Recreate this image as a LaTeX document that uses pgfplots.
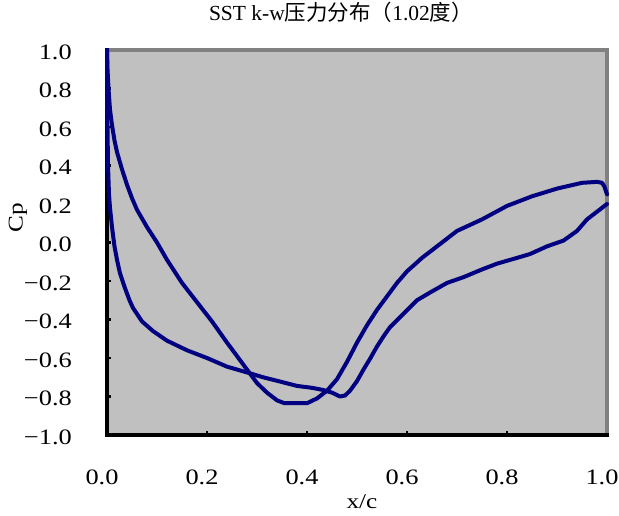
\documentclass[border=0pt]{standalone}
\usepackage{pgfplots}
\pgfplotsset{compat=1.18}
\usepackage{fontspec}
\setmainfont{Liberation Serif}
\newfontfamily\tickfont[FakeStretch=1.2]{Liberation Serif}
\newfontfamily\cjk{Noto Sans CJK SC}
\definecolor{navyline}{RGB}{0,0,128}
\definecolor{plotbg}{RGB}{192,192,192}
\definecolor{frame}{RGB}{128,128,128}
\begin{document}
\begin{tikzpicture}
\useasboundingbox (0,0) rectangle (619pt,516pt);
\begin{axis}[
  at={(107pt,81pt)}, anchor=south west,
  scale only axis, width=500pt, height=385pt,
  xmin=0, xmax=1, ymin=-1, ymax=1,
  clip=false,
  axis line style={draw=none},
  axis background/.style={fill=plotbg},
  tick align=inside, tick pos=left,
  major tick length=4pt,
  tick style={black, line width=2.5pt},
  xtick={0,0.2,0.4,0.6,0.8,1.0},
  xticklabels={0.0,0.2,0.4,0.6,0.8,1.0},
  ytick={-1,-0.8,-0.6,-0.4,-0.2,0,0.2,0.4,0.6,0.8,1.0},
  yticklabels={−1.0,−0.8,−0.6,−0.4,−0.2,0.0,0.2,0.4,0.6,0.8,1.0},
  every tick label/.append style={font=\tickfont\fontsize{22}{24}\selectfont},
  yticklabel style={anchor=east, inner sep=0pt, xshift=-35pt, yshift=-2pt},
  xticklabel style={anchor=north, inner sep=0pt, yshift=-35pt, xshift=-5pt},
  title={SST k-w{\cjk 压力分布（}1.02{\cjk 度）}},
  title style={at={(axis description cs:0.468,1.062)}, anchor=base, inner sep=0pt, font=\fontsize{21.5}{24}\selectfont},
  xlabel={x/c},
  xlabel style={at={(axis description cs:0.51,-0.192)}, anchor=base, inner sep=0pt, font=\tickfont\fontsize{21}{24}\selectfont},
  ylabel={Cp},
  ylabel style={at={(axis description cs:-0.178,0.564)}, anchor=center, inner sep=0pt, rotate=0, font=\tickfont\fontsize{21}{24}\selectfont},
]
\draw[frame, line width=4pt, line cap=rect] (rel axis cs:0,1) -- (rel axis cs:1,1) -- (rel axis cs:1,0);
\draw[black, line width=4.5pt, line cap=rect, line join=miter] (rel axis cs:0,1) -- (rel axis cs:0,0) -- (rel axis cs:1,0);
% pressure side
\addplot[navyline, line width=4pt, line join=round, line cap=round] coordinates {
(0.000,1.00) (0.001,0.90) (0.003,0.80) (0.006,0.69) (0.010,0.61) (0.015,0.53)
(0.020,0.47) (0.030,0.38) (0.040,0.30) (0.050,0.23) (0.060,0.17) (0.080,0.08)
(0.100,0.00) (0.120,-0.09) (0.150,-0.21) (0.180,-0.31) (0.210,-0.41) (0.240,-0.52)
(0.260,-0.59) (0.280,-0.66) (0.300,-0.73) (0.320,-0.78) (0.340,-0.82) (0.355,-0.835)
(0.400,-0.835) (0.420,-0.81) (0.440,-0.77) (0.460,-0.71) (0.480,-0.62) (0.500,-0.52)
(0.520,-0.43) (0.540,-0.35) (0.560,-0.28) (0.580,-0.21) (0.600,-0.15) (0.630,-0.08)
(0.660,-0.02) (0.700,0.06) (0.750,0.12) (0.800,0.19) (0.850,0.24) (0.900,0.28)
(0.950,0.31) (0.980,0.315) (0.990,0.31) (0.995,0.29) (1.000,0.25)
};
% suction side
\addplot[navyline, line width=4pt, line join=round, line cap=round] coordinates {
(0.000,1.00) (0.000,0.80) (0.001,0.60) (0.002,0.40) (0.004,0.25) (0.006,0.18)
(0.010,0.08) (0.015,-0.02) (0.020,-0.09) (0.026,-0.16) (0.035,-0.23) (0.045,-0.30)
(0.052,-0.34) (0.070,-0.41) (0.092,-0.46) (0.120,-0.51) (0.160,-0.56) (0.200,-0.60)
(0.240,-0.645) (0.280,-0.675) (0.312,-0.70) (0.350,-0.725) (0.380,-0.745) (0.410,-0.755)
(0.432,-0.766) (0.450,-0.78) (0.466,-0.80) (0.476,-0.795) (0.486,-0.77) (0.500,-0.72)
(0.513,-0.66) (0.527,-0.60) (0.540,-0.54) (0.555,-0.48) (0.566,-0.44) (0.593,-0.37)
(0.620,-0.30) (0.646,-0.26) (0.680,-0.21) (0.713,-0.18) (0.750,-0.14) (0.780,-0.11)
(0.820,-0.08) (0.846,-0.06) (0.880,-0.02) (0.913,0.01) (0.940,0.06) (0.960,0.12)
(0.980,0.16) (1.000,0.20)
};
\end{axis}
\end{tikzpicture}
\end{document}
